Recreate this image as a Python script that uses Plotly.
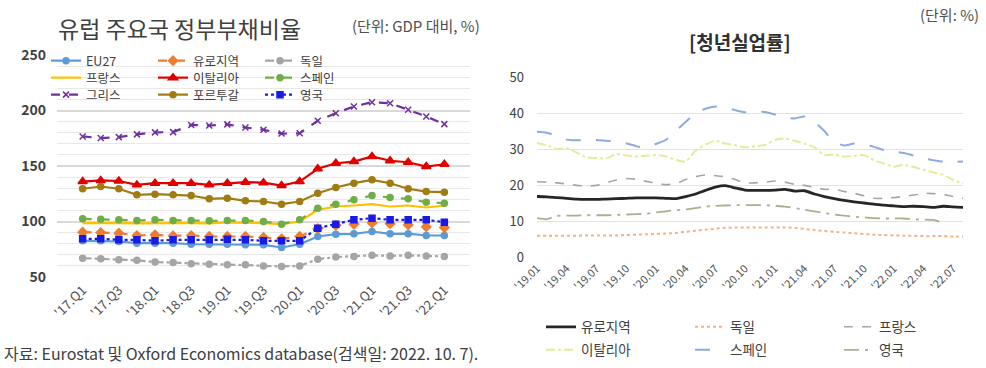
import plotly.graph_objects as go

FONT = "Noto Sans CJK KR"
W, H = 986, 368

# ---------------- Government debt ratio (quarterly, % of GDP) ----------------
quarters = ["'17.Q1", "'17.Q2", "'17.Q3", "'17.Q4", "'18.Q1", "'18.Q2", "'18.Q3", "'18.Q4",
            "'19.Q1", "'19.Q2", "'19.Q3", "'19.Q4", "'20.Q1", "'20.Q2", "'20.Q3", "'20.Q4",
            "'21.Q1", "'21.Q2", "'21.Q3", "'21.Q4", "'22.Q1"]
quarter_ticks = quarters[::2]

debt_eu27 = [82.6, 82.6, 82.0, 80.5, 80.5, 80.5, 79.5, 79.5, 79.5, 79.0, 79.0, 76.6, 79.5,
             86.5, 88.6, 88.9, 91.0, 88.9, 89.0, 87.4, 87.4]
debt_euro = [90.4, 90.1, 89.5, 87.4, 88.0, 87.1, 87.4, 86.5, 86.5, 86.5, 85.6, 84.4, 86.5,
             93.5, 96.5, 97.5, 98.8, 98.0, 97.0, 95.2, 94.5]
debt_germany = [67.0, 66.5, 65.5, 65.0, 63.5, 63.0, 62.0, 61.5, 61.0, 61.0, 60.0, 59.5, 60.0,
                66.0, 68.0, 68.5, 69.5, 69.0, 69.5, 69.0, 68.5]
debt_france = [98.5, 98.8, 98.6, 98.3, 98.7, 98.5, 98.6, 98.4, 99.3, 99.0, 98.5, 97.6, 100.0,
               110.5, 113.5, 114.4, 115.6, 113.5, 114.4, 112.6, 114.4]
debt_italy = [136.0, 137.0, 136.5, 133.0, 134.5, 134.5, 134.5, 133.0, 134.5, 135.4, 135.0, 132.4,
              136.0, 147.5, 152.5, 154.0, 158.6, 154.7, 153.4, 149.5, 151.6]
debt_spain = [102.4, 102.1, 101.5, 100.9, 101.5, 100.9, 100.9, 100.6, 100.9, 100.9, 100.0, 97.6,
              101.5, 112.0, 115.6, 119.5, 123.4, 121.6, 120.4, 117.4, 116.5]
debt_greece = [176.6, 175.2, 176.0, 178.5, 180.3, 180.5, 187.0, 186.5, 187.5, 184.7, 182.6, 179.2,
               179.5, 190.7, 197.6, 203.6, 207.5, 206.6, 200.6, 194.6, 187.7]
debt_portugal = [129.5, 131.5, 129.5, 124.0, 124.6, 124.0, 123.4, 120.4, 121.0, 118.6, 118.0, 115.6,
                 118.0, 125.5, 130.6, 134.5, 137.5, 134.5, 129.5, 127.0, 126.4]
debt_uk = [84.4, 84.4, 83.5, 83.5, 82.6, 83.5, 83.5, 83.5, 84.1, 83.5, 82.6, 82.6, 82.6,
           94.0, 97.6, 101.5, 103.0, 101.5, 101.5, 101.5, 99.4]

# ---------------- Youth unemployment rate (monthly, %) ----------------
months = ["'19.01", "'19.02", "'19.03", "'19.04", "'19.05", "'19.06", "'19.07", "'19.08", "'19.09",
          "'19.10", "'19.11", "'19.12", "'20.01", "'20.02", "'20.03", "'20.04", "'20.05", "'20.06",
          "'20.07", "'20.08", "'20.09", "'20.10", "'20.11", "'20.12", "'21.01", "'21.02", "'21.03",
          "'21.04", "'21.05", "'21.06", "'21.07", "'21.08", "'21.09", "'21.10", "'21.11", "'21.12",
          "'22.01", "'22.02", "'22.03", "'22.04", "'22.05", "'22.06", "'22.07", "'22.08"]
month_ticks = months[::3]

yu_euro = [16.8, 16.7, 16.5, 16.3, 16.1, 16.0, 16.0, 16.1, 16.2, 16.3, 16.4, 16.4, 16.4, 16.3,
           16.2, 16.8, 17.5, 18.5, 19.4, 19.8, 19.2, 18.6, 18.5, 18.5, 18.6, 18.8, 18.3, 18.4,
           17.5, 16.8, 16.2, 15.7, 15.3, 15.0, 14.7, 14.4, 14.2, 14.0, 14.1, 14.0, 13.8, 14.1,
           13.9, 13.8]
yu_germany = [5.9, 5.9, 5.9, 5.9, 5.9, 6.0, 6.0, 6.0, 6.0, 6.1, 6.2, 6.3, 6.4, 6.5, 6.7, 7.0,
              7.3, 7.6, 7.9, 8.1, 8.2, 8.2, 8.2, 8.2, 8.2, 8.2, 8.1, 7.8, 7.5, 7.2, 7.0, 6.8,
              6.6, 6.4, 6.2, 6.1, 6.0, 5.9, 5.9, 5.8, 5.8, 5.8, 5.7, 5.7]
yu_france = [20.9, 20.8, 20.6, 20.3, 19.9, 19.7, 19.9, 20.6, 21.4, 21.8, 21.6, 21.0, 20.5, 20.1,
             20.4, 21.5, 22.3, 22.8, 22.6, 22.3, 21.5, 20.6, 20.6, 20.8, 21.1, 20.8, 20.2, 19.9,
             19.3, 18.8, 18.8, 18.2, 17.7, 17.0, 16.3, 16.3, 16.5, 16.8, 17.2, 17.7, 17.6, 17.4,
             16.8, 16.3]
yu_italy = [31.7, 31.0, 30.0, 30.2, 29.0, 27.7, 27.5, 27.4, 28.6, 28.2, 27.9, 28.1, 28.3, 28.0,
            27.0, 26.5, 29.5, 31.2, 32.3, 31.5, 31.1, 30.5, 30.8, 31.1, 32.5, 32.9, 32.3, 31.5,
            30.5, 28.3, 28.5, 27.9, 28.1, 28.3, 26.9, 26.0, 25.1, 25.6, 25.0, 24.2, 23.5, 22.8,
            21.4, 20.5]
yu_spain = [34.8, 34.5, 33.6, 32.6, 32.4, 32.5, 32.5, 32.3, 32.1, 31.6, 30.8, 30.4, 31.4, 32.5,
            35.0, 37.5, 40.0, 41.2, 41.8, 41.5, 40.8, 40.2, 40.3, 40.3, 39.6, 38.7, 38.5, 39.0,
            37.5, 35.0, 32.0, 31.0, 31.5, 31.2, 30.6, 29.7, 29.3, 28.9, 28.2, 27.4, 26.9, 26.5,
            26.4, 26.5]
yu_uk = [10.8, 10.5, 11.4, 11.5, 11.5, 11.6, 11.6, 11.6, 11.7, 11.8, 11.9, 12.0, 12.4, 12.7,
         13.0, 13.2, 13.6, 14.0, 14.2, 14.3, 14.4, 14.4, 14.4, 14.4, 14.2, 14.0, 13.6, 13.1,
         12.7, 12.2, 11.8, 11.5, 11.2, 11.0, 10.8, 10.7, 10.7, 10.7, 10.5, 10.4, 10.3, 9.5,
         None, None]

fig = go.Figure()

# left panel series: (name, values, colour, dash, marker symbol, marker size, legend row, item width)
left_series = [
    ("EU27", debt_eu27, "#5B9BD5", "solid", "circle", 6, "legend", 62),
    ("유로지역", debt_euro, "#ED7D31", "dash", "diamond", 7, "legend", 62),
    ("독일", debt_germany, "#A5A5A5", "dashdot", "circle", 6, "legend", 40),
    ("프랑스", debt_france, "#FFC000", "solid", None, 0, "legend2", 62),
    ("이탈리아", debt_italy, "#E00000", "solid", "triangle-up", 8, "legend2", 62),
    ("스페인", debt_spain, "#70AD47", "dash", "circle", 6, "legend2", 40),
    ("그리스", debt_greece, "#7030A0", "dash", "x-thin-open", 6, "legend3", 62),
    ("포르투갈", debt_portugal, "#A07C12", "solid", "circle", 6, "legend3", 62),
    ("영국", debt_uk, "#1A1AE6", "dot", "square", 6, "legend3", 40),
]
for name, vals, col, dash, sym, size, leg, lw in left_series:
    kw = dict(mode="lines+markers", marker=dict(symbol=sym, size=size, color=col,
                                                line=dict(color=col, width=1.5)))
    if sym is None:
        kw = dict(mode="lines")
    fig.add_trace(go.Scatter(x=quarters, y=vals, name=name, xaxis="x", yaxis="y",
                             line=dict(color=col, width=2.2, dash=dash), legend=leg,
                             legendwidth=lw, **kw))

right_series = [
    ("유로지역", yu_euro, "#262626", "solid", 2.8, "legend4", 104),
    ("독일", yu_germany, "#F4B183", "dot", 2.0, "legend4", 104),
    ("프랑스", yu_france, "#A6A6A6", "dash", 1.6, "legend4", 50),
    ("이탈리아", yu_italy, "#E6EB9A", "dashdot", 2.0, "legend5", 104),
    ("스페인", yu_spain, "#8FAADC", "longdash", 2.0, "legend5", 104),
    ("영국", yu_uk, "#A3B48C", "longdashdot", 1.8, "legend5", 50),
]
for name, vals, col, dash, width, leg, lw in right_series:
    fig.add_trace(go.Scatter(x=months, y=vals, name=name, xaxis="x2", yaxis="y2", mode="lines",
                             line=dict(color=col, width=width, dash=dash, shape="spline",
                                       smoothing=0.6),
                             legend=leg, legendwidth=lw))

fig.update_layout(
    width=W, height=H, autosize=False,
    margin=dict(l=0, r=0, t=0, b=0, autoexpand=False),
    paper_bgcolor="white", plot_bgcolor="white",
    font=dict(family=FONT, color="#404040"),
    xaxis=dict(domain=[57 / W, 470 / W], anchor="y", type="category", tickvals=quarter_ticks,
               tickangle=-45, tickfont=dict(family=FONT, size=13, color="#505050"),
               showgrid=False, showline=False, zeroline=False, ticks="",
               ticklabelstandoff=2, automargin=False),
    yaxis=dict(domain=[(H - 277) / H, (H - 55) / H], anchor="x", range=[50, 250], dtick=50,
               tickfont=dict(family=FONT, size=14, color="#404040", weight="bold"),
               showgrid=True, gridcolor="#D9D9D9", gridwidth=1.5,
               minor=dict(dtick=10, showgrid=True, gridcolor="#E8E8E8", gridwidth=1),
               zeroline=False, showline=False, ticks="", ticklabelstandoff=10, automargin=False),
    xaxis2=dict(domain=[537 / W, 963 / W], anchor="y2", type="category", tickvals=month_ticks,
                tickangle=-45, tickfont=dict(family=FONT, size=11, color="#505050"),
                showgrid=False, showline=False, zeroline=False, ticks="",
                ticklabelstandoff=2, automargin=False),
    yaxis2=dict(domain=[(H - 257) / H, (H - 77) / H], anchor="x2", range=[0, 50], dtick=10,
                tickfont=dict(family=FONT, size=13, color="#404040"),
                showgrid=True, gridcolor="#E3E3E3", gridwidth=1,
                zeroline=False, showline=False, ticks="", ticklabelstandoff=12, automargin=False),
)

leg_common = dict(orientation="h", xanchor="left", yanchor="middle",
                  bgcolor="rgba(0,0,0,0)", borderwidth=0, tracegroupgap=0)
leg_font = dict(family=FONT, size=12.5, color="#404040")
fig.update_layout(
    legend=dict(x=46 / W, y=1 - 61 / H, font=leg_font, **leg_common),
    legend2=dict(x=46 / W, y=1 - 78 / H, font=leg_font, **leg_common),
    legend3=dict(x=46 / W, y=1 - 95 / H, font=leg_font, **leg_common),
    legend4=dict(x=541 / W, y=1 - 327 / H, font=dict(family=FONT, size=13.5, color="#404040"), **leg_common),
    legend5=dict(x=541 / W, y=1 - 350 / H, font=dict(family=FONT, size=13.5, color="#404040"), **leg_common),
)

annotations = [
    dict(text="유럽 주요국 정부부채비율", x=56 / W, y=1 - 28 / H, xanchor="left", yanchor="middle",
         font=dict(family=FONT, size=23, color="#404040")),
    dict(text="(단위: GDP 대비, %)", x=482 / W, y=1 - 25 / H, xanchor="right", yanchor="middle",
         font=dict(family=FONT, size=15, color="#505050")),
    dict(text="자료: Eurostat 및 Oxford Economics database(검색일: 2022. 10. 7).", x=2 / W,
         y=1 - 353 / H, xanchor="left", yanchor="middle",
         font=dict(family=FONT, size=16, color="#404040")),
    dict(text="<b>[청년실업률]</b>", x=740 / W, y=1 - 41 / H, xanchor="center", yanchor="middle",
         font=dict(family=FONT, size=19, color="#303030")),
    dict(text="(단위: %)", x=981 / W, y=1 - 14 / H, xanchor="right", yanchor="middle",
         font=dict(family=FONT, size=15, color="#505050")),
]
for a in annotations:
    a.update(xref="paper", yref="paper", showarrow=False)
fig.update_layout(annotations=annotations)

fig.write_html("out.html")
